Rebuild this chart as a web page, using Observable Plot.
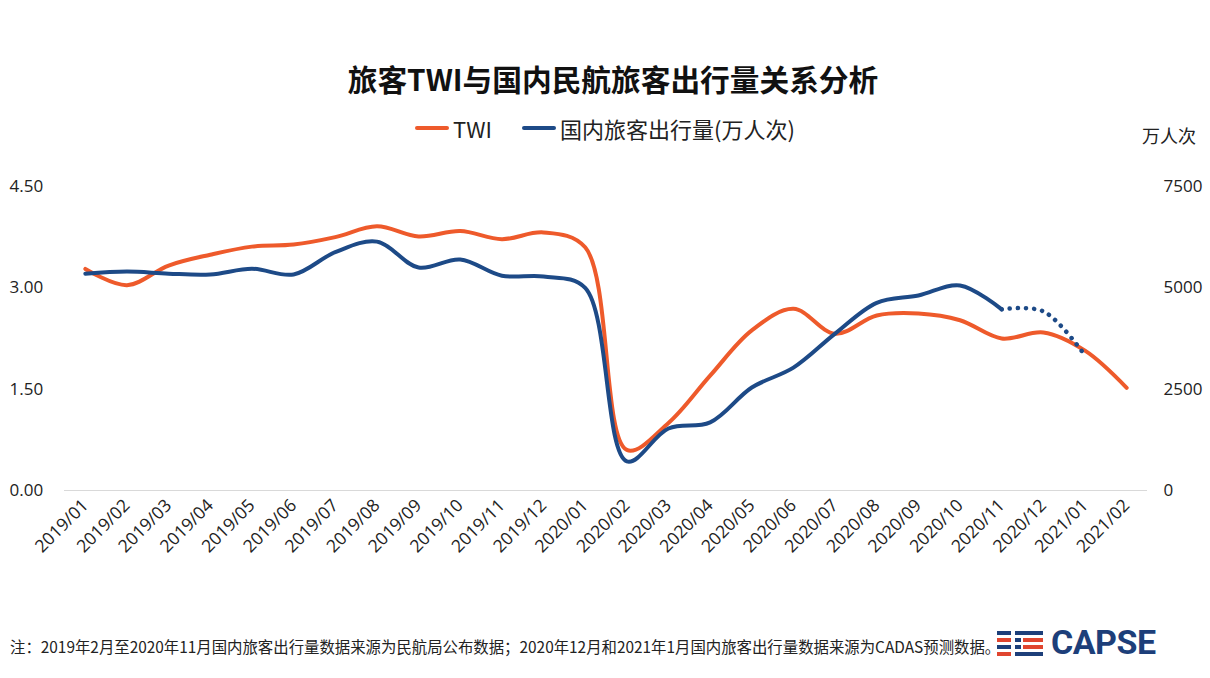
<!DOCTYPE html>
<html><head><meta charset="utf-8">
<script src="https://cdn.jsdelivr.net/npm/d3@7"></script>
<script src="https://cdn.jsdelivr.net/npm/@observablehq/plot@0.6"></script>
<style>
body{margin:0;background:#fff;font-family:"Noto Sans CJK SC","Noto Sans",sans-serif;}
#page{position:relative;width:1210px;height:678px;overflow:hidden;background:#fff;}
#chart{position:absolute;left:0;top:160px;}
.title{position:absolute;top:59px;left:8px;width:1210px;text-align:center;font-size:29.7px;line-height:40px;font-weight:bold;color:#111;}
.legend{position:absolute;top:113px;left:0;width:1210px;display:flex;justify-content:center;align-items:center;font-size:22px;line-height:30px;color:#222;}
.sw{display:inline-block;width:34px;height:4px;border-radius:2px;margin-right:4px;}
.unit{position:absolute;top:122px;left:1142px;font-size:18px;line-height:26px;color:#222;}
.note{position:absolute;top:636px;left:10px;font-size:15.4px;line-height:20px;color:#222;}
.logo{position:absolute;top:626px;left:997px;display:flex;align-items:center;}
.icon{position:relative;width:48px;height:28px;margin-right:6px;}
.icon div{position:absolute;height:4px;}
.capse{font-family:Roboto,sans-serif;font-weight:700;font-size:34px;line-height:32px;color:#1D3F7A;letter-spacing:-0.5px;}
</style></head>
<body><div id="page">
<div class="title">旅客TWI与国内民航旅客出行量关系分析</div>
<div class="legend"><span class="sw" style="background:#EE5A2B"></span><span>TWI</span><span style="width:30px"></span><span class="sw" style="background:#1D4A87"></span><span>国内旅客出行量(万人次)</span></div>
<div class="unit">万人次</div>
<div id="chart"></div>
<div class="note">注：2019年2月至2020年11月国内旅客出行量数据来源为民航局公布数据；2020年12月和2021年1月国内旅客出行量数据来源为CADAS预测数据。</div>
<div class="logo"><div class="icon">
<div style="left:0;top:3px;width:14px;background:#1D3F7A"></div>
<div style="left:18px;top:3px;width:28px;background:#1D3F7A"></div>
<div style="left:0;top:10px;width:14px;background:#E0452F"></div>
<div style="left:18px;top:10px;width:6px;background:#1D3F7A"></div>
<div style="left:26px;top:10px;width:20px;background:#E0452F"></div>
<div style="left:0;top:17px;width:14px;background:#1D3F7A"></div>
<div style="left:18px;top:17px;width:6px;background:#1D3F7A"></div>
<div style="left:26px;top:17px;width:20px;background:#E0452F"></div>
<div style="left:0;top:24px;width:14px;background:#E0452F"></div>
<div style="left:18px;top:24px;width:28px;background:#1D3F7A"></div>
</div><span class="capse">CAPSE</span></div>
</div>
<script>
const months = ["2019/01","2019/02","2019/03","2019/04","2019/05","2019/06","2019/07","2019/08","2019/09","2019/10","2019/11","2019/12",
"2020/01","2020/02","2020/03","2020/04","2020/05","2020/06","2020/07","2020/08","2020/09","2020/10","2020/11","2020/12",
"2021/01","2021/02"];
const twi = [3.28,3.04,3.33,3.49,3.61,3.64,3.75,3.91,3.76,3.84,3.72,3.82,
3.60,0.60,1.00,1.70,2.37,2.69,2.32,2.59,2.62,2.52,2.25,2.34,2.07,1.52];
// 国内旅客出行量(万人次): published 2019/01..2020/11
const passengers = [5350,5400,5350,5330,5470,5330,5880,6140,5500,5700,5300,5280,
5000,720,1530,1680,2540,3030,3870,4630,4810,5060,4470];
// forecast (CADAS) 2020/11 anchor, 2020/12, 2021/01
const forecastMonths = ["2020/11","2020/12","2021/01"];
const forecast = [4470,4420,3330];
const leftTicks = [0,1.5,3,4.5];
const rightMax = 7500, leftMax = 4.5;
const k = leftMax / rightMax;

const orange = "#EE5A2B", blue = "#1D4A87";
const twiRows = months.map((m,i)=>({m, v: twi[i]}));
const paxRows = passengers.map((v,i)=>({m: months[i], v: v*k}));
const fcRows = forecast.map((v,i)=>({m: forecastMonths[i], v: v*k}));

const chart = Plot.plot({
  width: 1210, height: 440,
  marginLeft: 64, marginRight: 63, marginTop: 26, marginBottom: 110,
  style: {fontFamily: '"Open Sans","Noto Sans CJK SC",sans-serif', fontSize: "16px", color: "#222", background: "white"},
  x: {type: "point", domain: months, padding: 0.5, round: false},
  y: {domain: [0, leftMax]},
  marks: [
    Plot.ruleY([0], {stroke: "#d9d9d9", strokeWidth: 1.2}),
    Plot.axisX({tickRotate: -45, tickSize: 0, tickPadding: 12, label: null, fontSize: 17.5}),
    Plot.axisY({anchor: "left", ticks: leftTicks, tickFormat: d3.format(".2f"), tickSize: 0, tickPadding: 55, textAnchor: "start", label: null, fontSize: 17}),
    Plot.axisY({anchor: "right", ticks: leftTicks, tickFormat: d => String(Math.round(d / k)), tickSize: 0, tickPadding: 16, label: null, fontSize: 17}),
    Plot.line(twiRows, {x: "m", y: "v", stroke: orange, strokeWidth: 4, curve: "catmull-rom"}),
    Plot.line(paxRows, {x: "m", y: "v", stroke: blue, strokeWidth: 4, curve: "catmull-rom"}),
    Plot.line(fcRows, {x: "m", y: "v", stroke: blue, strokeWidth: 4.5, strokeDasharray: "0.1 8", strokeLinecap: "round", curve: "catmull-rom"})
  ]
});
document.getElementById("chart").appendChild(chart);
</script>
</body></html>
